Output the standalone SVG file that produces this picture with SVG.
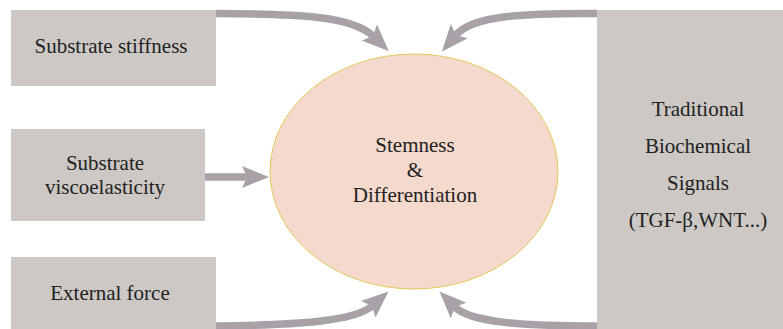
<svg xmlns="http://www.w3.org/2000/svg" width="783" height="329" viewBox="0 0 783 329">
<style>
.box{fill:#cdc8c4}
.t{font-size:21px;fill:#222;text-anchor:middle}
.arr{fill:none;stroke:#a9a1a8;stroke-width:7.5}
</style>
<defs>
<marker id="ah" markerUnits="userSpaceOnUse" markerWidth="40" markerHeight="40" viewBox="-10 -20 40 40" refX="0" refY="0" orient="auto">
<path d="M-5,-11 L22,0 L-5,11 L0,0 Z" fill="#a9a1a8"/>
</marker>
</defs>
<rect width="783" height="329" fill="#fff"/>
<g id="connectors">
<path class="arr" d="M216,13.5 C300,14 352,16 373,36" marker-end="url(#ah)"/>
<path class="arr" d="M597,13.5 C520,13 472,16 456,35" marker-end="url(#ah)"/>
<path class="arr" d="M205,177 L247,177" marker-end="url(#ah)"/>
<path class="arr" d="M216,326 C300,325 355,321 372,306" marker-end="url(#ah)"/>
<path class="arr" d="M597,326 C520,326 470,322 455,307" marker-end="url(#ah)"/>
</g>
<g font-family="Liberation Serif, Tinos, Times New Roman, Times, Nimbus Roman, Noto Serif, DejaVu Serif, serif">
<g id="center">
<ellipse cx="414" cy="171.5" rx="144" ry="117.5" fill="#f4d9cc" stroke="#e2c95a" stroke-width="1"/>
<text class="t" x="415" y="152">Stemness</text>
<text class="t" x="415" y="177">&amp;</text>
<text class="t" x="415" y="202">Differentiation</text>
</g>
<g id="stiffness">
<rect class="box" x="11" y="10" width="205" height="76"/>
<text class="t" x="111" y="53">Substrate stiffness</text>
</g>
<g id="viscoelasticity">
<rect class="box" x="11" y="129" width="194" height="92"/>
<text class="t" x="105" y="170">Substrate</text>
<text class="t" x="105" y="194">viscoelasticity</text>
</g>
<g id="force">
<rect class="box" x="11" y="257" width="205" height="72"/>
<text class="t" x="110" y="300">External force</text>
</g>
<g id="signals">
<rect class="box" x="597" y="10" width="186" height="319"/>
<text class="t" x="698" y="116">Traditional</text>
<text class="t" x="698" y="153">Biochemical</text>
<text class="t" x="698" y="190">Signals</text>
<text class="t" x="698" y="227">(TGF-β,WNT...)</text>
</g>
</g>
</svg>
